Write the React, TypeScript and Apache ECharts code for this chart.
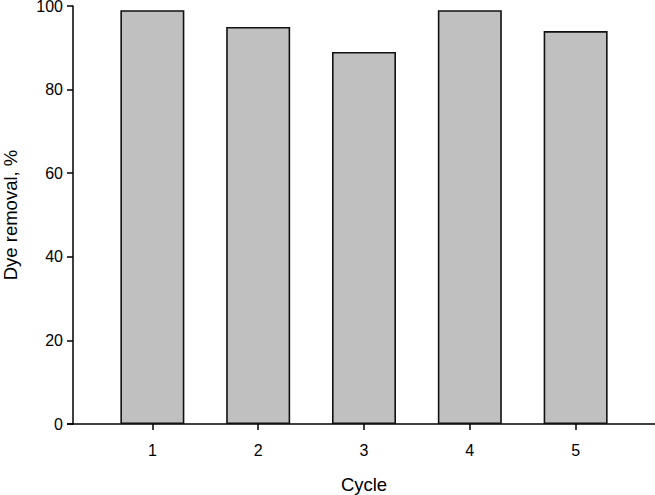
import React, { useEffect, useRef } from "react";
import * as echarts from "echarts";

const cycles = [1, 2, 3, 4, 5];
const dyeRemoval = [99, 95, 89, 99, 94];
const yTicks = [0, 20, 40, 60, 80, 100];

export default function App() {
  const ref = useRef<HTMLDivElement>(null);
  useEffect(() => {
    if (!ref.current) return;
    const chart = echarts.init(ref.current, null, { renderer: "svg" });
    const font = "'Liberation Sans', Arial, sans-serif";
    chart.setOption({
      animation: false,
      backgroundColor: "#ffffff",
      grid: { left: 73, right: 0, top: 6, bottom: 71, containLabel: false, outerBoundsMode: "none" },
      xAxis: {
        type: "value",
        min: 0.25,
        max: 5.75,
        name: "Cycle",
        nameLocation: "middle",
        nameGap: 51,
        nameTextStyle: { fontFamily: font, fontSize: 18.5, color: "#000" },
        axisLine: { show: true, onZero: false, lineStyle: { color: "#000", width: 1.5 } },
        axisTick: { show: true, inside: false, length: 6, customValues: cycles, lineStyle: { color: "#000", width: 1.5 } },
        axisLabel: { customValues: cycles, margin: 18, fontFamily: font, fontSize: 16, color: "#000" },
        splitLine: { show: false },
      },
      yAxis: {
        type: "value",
        min: yTicks[0],
        max: yTicks[yTicks.length - 1],
        interval: 20,
        name: "Dye removal, %",
        nameLocation: "middle",
        nameGap: 54,
        nameTextStyle: { fontFamily: font, fontSize: 18.5, lineHeight: 18, color: "#000" },
        axisLine: { show: true, lineStyle: { color: "#000", width: 1.5 } },
        axisTick: { show: true, inside: false, length: 6, lineStyle: { color: "#000", width: 1.5 } },
        axisLabel: { margin: 10, fontFamily: font, fontSize: 16, lineHeight: 12, color: "#000" },
        splitLine: { show: false },
      },
      series: [
        {
          type: "bar",
          data: cycles.map((c, i) => [c, dyeRemoval[i]]),
          barWidth: 64,
          itemStyle: { color: "#c0c0c0", borderColor: "#111", borderWidth: 1.6 },
        },
      ],
    });
    const origin = chart.convertToPixel({ gridIndex: 0 }, [0.25, 0]) as number[];
    if (origin) {
      chart.setOption({
        graphic: [
          {
            type: "line",
            shape: { x1: origin[0] - 6, y1: origin[1], x2: origin[0], y2: origin[1] },
            style: { stroke: "#000", lineWidth: 1.5 },
            silent: true,
          },
        ],
      });
    }
    return () => chart.dispose();
  }, []);
  return (
    <div
      ref={ref}
      style={{ position: "fixed", left: 0, top: 0, width: 655, height: 495 }}
    />
  );
}
